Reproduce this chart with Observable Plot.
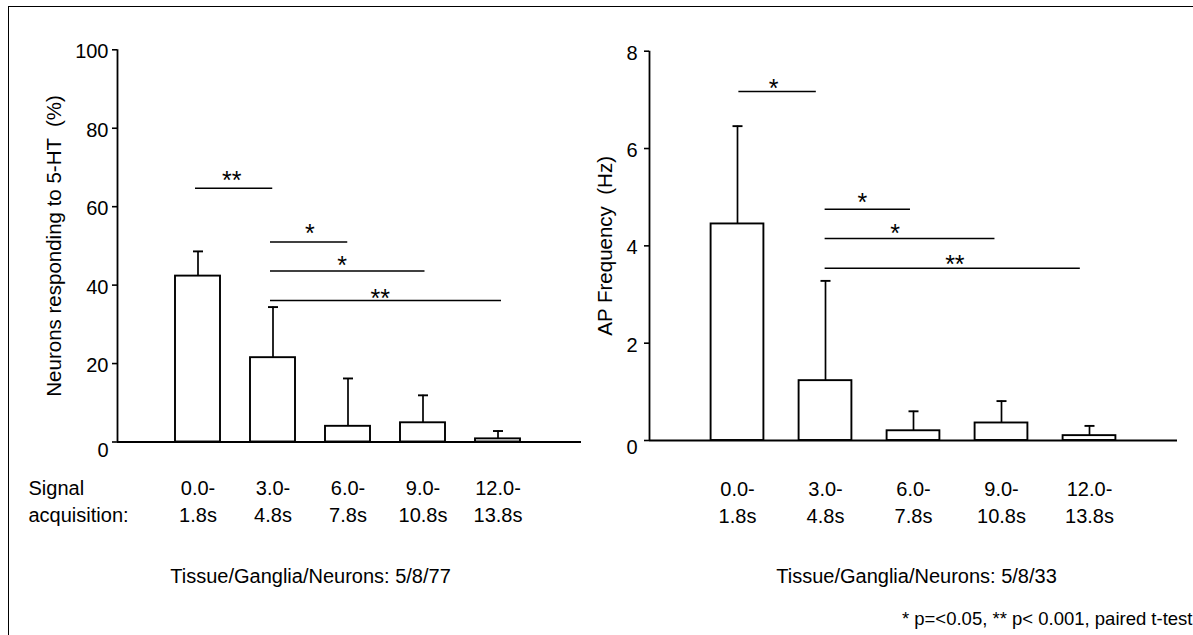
<!DOCTYPE html>
<html>
<head>
<meta charset="utf-8">
<script src="https://cdn.jsdelivr.net/npm/d3@7"></script>
<script src="https://cdn.jsdelivr.net/npm/@observablehq/plot@0.6"></script>
<style>
  body { margin: 0; background: #fff; }
  #wrap { position: relative; width: 1193px; height: 635px; overflow: hidden; background: #fff; }
  #frame { position: absolute; left: 7.5px; top: 6px; width: 1300px; height: 700px;
           border-left: 1.7px solid #000; border-top: 1.7px solid #000; }
  #wrap svg { position: absolute; top: 0; }
</style>
</head>
<body>
<div id="wrap"><div id="frame"></div></div>
<script>
// ---------- data ----------
const timeBins = ["0.0-\n1.8s", "3.0-\n4.8s", "6.0-\n7.8s", "9.0-\n10.8s", "12.0-\n13.8s"];

const neuronsPct = [42.3, 21.5, 4.0, 4.9, 0.8];
const neuronsErr = [6.3, 12.9, 12.2, 7.0, 2.0];
const neuronsTicks = [0, 20, 40, 60, 80, 100];
const neuronsLabel = "Neurons responding to 5-HT  (%)";

const apFreqHz = [4.45, 1.23, 0.20, 0.36, 0.10];
const apFreqErr = [2.01, 2.05, 0.40, 0.45, 0.20];
const apTicks = [0, 2, 4, 6, 8];
const apLabel = "AP Frequency  (Hz)";

// significance brackets (x in bin units, 0 = first bin; y in data units)
const neuronsSigFrom = [-0.04, 0.96, 0.96, 0.96];
const neuronsSigTo = [0.99, 1.99, 3.02, 4.04];
const neuronsSigY = [64.7, 51.0, 43.6, 36.1];
const neuronsSigLabelX = [0.45, 1.49, 1.92, 2.43];
const neuronsSigLabelY = [68.2, 54.8, 46.5, 38.2];
const neuronsSigText = ["**", "*", "*", "**"];

const apSigFrom = [0.01, 0.99, 0.99, 0.99];
const apSigTo = [0.89, 1.96, 2.92, 3.89];
const apSigY = [7.17, 4.75, 4.15, 3.54];
const apSigLabelX = [0.41, 1.42, 1.79, 2.47];
const apSigLabelY = [7.36, 5.02, 4.37, 3.73];
const apSigText = ["*", "*", "*", "**"];

const rowTitle = "Signal\nacquisition:";
const neuronsN = "Tissue/Ganglia/Neurons: 5/8/77";
const apN = "Tissue/Ganglia/Neurons: 5/8/33";
const footnote = "* p=<0.05, ** p< 0.001, paired t-test";

// ---------- drawing ----------
const FONT = "'Liberation Sans', Arial, Helvetica, sans-serif";
const capSymbol = {
  draw(ctx, size) {
    const w = Math.sqrt(size / Math.PI);
    ctx.moveTo(-w, 0);
    ctx.lineTo(w, 0);
  }
};

function panel(o) {
  const bars = o.values.map((v, i) => ({i, v, top: v + o.errors[i], label: timeBins[i]}));
  const sig = o.sigFrom.map((f, k) => ({
    from: f, to: o.sigTo[k], y: o.sigY[k], lx: o.sigLabelX[k], ly: o.sigLabelY[k], text: o.sigText[k]
  }));
  const [x0, x1] = o.xDomain;
  const yMax = o.ticks[o.ticks.length - 1];
  const marks = [
    Plot.rectY(bars, {x1: d => d.i - 0.3, x2: d => d.i + 0.3, y1: 0, y2: "v",
      fill: "#fff", stroke: "#000", strokeWidth: 1.9}),
    Plot.ruleX(bars, {x: "i", y1: "v", y2: "top", stroke: "#000", strokeWidth: 1.7}),
    Plot.dot(bars, {x: "i", y: "top", r: 5, symbol: capSymbol, stroke: "#000", fill: "none", strokeWidth: 1.9}),
    Plot.ruleY([0], {x1: x0, x2: x1, stroke: "#000", strokeWidth: 1.9}),
    Plot.ruleX([x0], {y1: 0, y2: yMax, stroke: "#000", strokeWidth: 1.8}),
    Plot.axisY(o.ticks, {anchor: "left", tickSize: 5, tickFormat: () => "", label: null, strokeWidth: 1.6}),
    Plot.axisY(o.ticks.filter(t => t !== 0), {anchor: "left", tickSize: 0, tickPadding: o.labelPad,
      dy: 2, fontSize: 20, label: null, fontFamily: FONT}),
    Plot.axisY([0], {anchor: "left", tickSize: 0, tickPadding: o.labelPad,
      dy: o.zeroDy, fontSize: 20, label: null, fontFamily: FONT}),
    Plot.text([o.yLabel], {frameAnchor: "left", rotate: -90, dx: o.titleDx, fontSize: 20.5,
      textAnchor: "middle", lineAnchor: "middle", fill: "#000"}),
    Plot.link(sig, {x1: "from", x2: "to", y1: "y", y2: "y", stroke: "#000", strokeWidth: 1.5}),
    Plot.text(sig, {x: "lx", y: "ly", text: "text", fontSize: 25, dy: 6.5, fill: "#000"}),
    Plot.text(bars, {x: "i", y: 0, text: "label", lineAnchor: "top", lineHeight: 1.35,
      dy: o.catDy, fontSize: 20, fill: "#000"})
  ];
  for (const e of o.extras) {
    marks.push(Plot.text([e.text], {frameAnchor: e.frameAnchor, textAnchor: e.textAnchor,
      lineAnchor: "top", lineHeight: 1.35, dx: e.dx, dy: e.dy, fontSize: e.fontSize, fill: "#000"}));
  }
  const svg = Plot.plot({
    width: o.width, height: 635,
    marginLeft: o.ml, marginRight: o.mr, marginTop: o.mt, marginBottom: 635 - o.y0px,
    x: {type: "linear", domain: o.xDomain, axis: null},
    y: {domain: [0, yMax], axis: null},
    style: {background: "transparent", overflow: "visible", fontFamily: FONT, color: "#000"},
    marks
  });
  svg.style.left = o.left + "px";
  return svg;
}

const wrap = document.getElementById("wrap");

wrap.appendChild(panel({
  left: 0, width: 600, ml: 117, mr: 19, mt: 49.3, y0px: 441.5,
  xDomain: [-1.0733, 5.1133],
  values: neuronsPct, errors: neuronsErr, ticks: neuronsTicks, yLabel: neuronsLabel,
  sigFrom: neuronsSigFrom, sigTo: neuronsSigTo, sigY: neuronsSigY,
  sigLabelX: neuronsSigLabelX, sigLabelY: neuronsSigLabelY, sigText: neuronsSigText,
  labelPad: 9, zeroDy: 8.5, titleDx: -63, catDy: 34.3,
  extras: [
    {text: rowTitle, frameAnchor: "bottom-left", textAnchor: "start", dx: -89, dy: 34.3, fontSize: 20},
    {text: neuronsN, frameAnchor: "bottom", textAnchor: "middle", dx: -39, dy: 122.3, fontSize: 20}
  ]
}));

wrap.appendChild(panel({
  left: 600, width: 593, ml: 49, mr: 16, mt: 50.7, y0px: 440,
  xDomain: [-1.0, 5.0],
  values: apFreqHz, errors: apFreqErr, ticks: apTicks, yLabel: apLabel,
  sigFrom: apSigFrom, sigTo: apSigTo, sigY: apSigY,
  sigLabelX: apSigLabelX, sigLabelY: apSigLabelY, sigText: apSigText,
  labelPad: 12, zeroDy: 7, titleDx: -44, catDy: 36.8,
  extras: [
    {text: apN, frameAnchor: "bottom", textAnchor: "middle", dx: 3, dy: 123.8, fontSize: 20},
    {text: footnote, frameAnchor: "bottom-right", textAnchor: "end", dx: 15, dy: 166.4, fontSize: 18.5}
  ]
}));
</script>
</body>
</html>
